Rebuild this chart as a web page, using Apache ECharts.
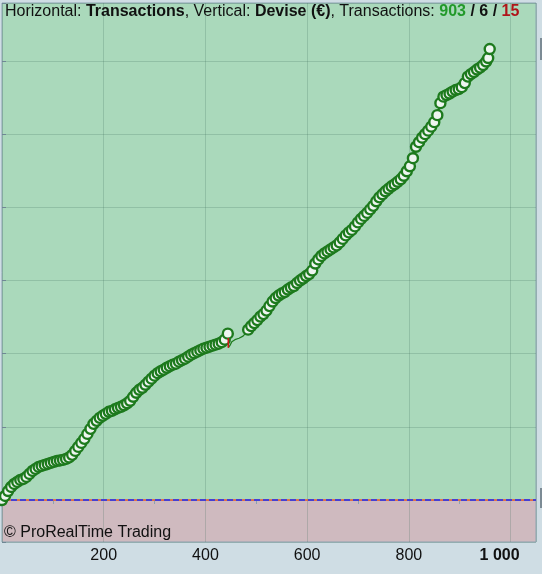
<!DOCTYPE html>
<html>
<head>
<meta charset="utf-8">
<script src="https://cdn.jsdelivr.net/npm/echarts@6/dist/echarts.min.js"></script>
<style>
html,body{margin:0;padding:0;background:#cfdde4;}
#c{width:542px;height:574px;}
</style>
</head>
<body>
<div id="c"></div>
<script>
// ---- data ----
const tradesA = [0,6,12,18,24,30,36,42,48,54,60,66,72,78,84,90,96,102,108,114,120,126,132,138,144,150,156,162,168,174,180,186,192,198,204,210,216,222,228,234,240,246,252,258,264,270,276,282,288,294,300,306,312,318,324,330,336,342,348,354,360,366,372,378,384,390,396,402,408,414,420,426,432,438,444];
const equityA = [0,55,123,178,219,247,274,288,315,356,397,425,452,466,480,493,507,521,534,541,548,562,582,617,671,726,781,836,904,973,1041,1082,1123,1151,1178,1206,1219,1240,1260,1274,1295,1322,1356,1411,1466,1507,1534,1575,1617,1658,1699,1733,1760,1781,1808,1829,1850,1863,1891,1911,1932,1959,1987,2007,2028,2048,2069,2082,2096,2110,2124,2137,2158,2192,2274];

const lossTrades = [445,445];
const lossEquity = [2215,2082];

const gapTrades = [445,448,452,458,466,474,480,484];
const gapEquity = [2082,2110,2165,2192,2212,2240,2288,2329];

const tradesB = [484,490,496,502,508,514,520,526,532,538,544,550,556,562,568,574,580,586,592,598,604,610,616,622,628,634,640,646,652,658,664,670,676,682,688,694,700,706,712,718,724,730,736,742,748,754,760,766,772,778,784,790,796,802,808,814,820,826,832,838,844,850,856,862,868,874,880,886,892,898,904,910,916,922,928,934,940,946,952,956,959];
const equityB = [2329,2377,2418,2459,2507,2541,2589,2651,2713,2761,2795,2822,2843,2877,2904,2925,2966,3000,3028,3062,3089,3137,3233,3288,3336,3370,3398,3425,3452,3480,3521,3569,3617,3658,3692,3740,3795,3843,3884,3925,3973,4021,4083,4137,4179,4220,4254,4288,4316,4350,4384,4432,4494,4562,4672,4829,4891,4953,5001,5049,5104,5165,5261,5425,5514,5535,5556,5583,5604,5617,5644,5699,5788,5822,5850,5884,5911,5946,5994,6042,6165];

const xTicks = [200,400,600,800,1000];
const countWin = '903', countEven = '6', countLoss = '15';

// ---- chart ----
const FONT = '"Liberation Sans", Arial, sans-serif';
const GREEN_BG = '#aad9bb';
const PINK_BG = '#cfbabf';
const LINE_GREEN = '#1d7a1d';
const GRIDC = 'rgba(60,105,85,0.22)';

const zip = (xs, ys) => xs.map((x, i) => [x, ys[i]]);

const chart = echarts.init(document.getElementById('c'), null, {renderer: 'canvas'});
const markerSeries = (xs, ys) => ({
  type: 'line', z: 4, silent: true, data: zip(xs, ys), showAllSymbol: true, symbol: 'circle', symbolSize: 10,
  itemStyle: {color: '#eef5f0', borderColor: LINE_GREEN, borderWidth: 2.4},
  lineStyle: {color: LINE_GREEN, width: 2}
});
const option = {
  backgroundColor: '#cfdde4',
  animation: false,
  grid: {left: 2, top: 3, right: 6, bottom: 32, show: true, borderColor: '#8aa3b0', borderWidth: 1, backgroundColor: 'transparent'},
  xAxis: {
    type: 'value', min: 0, max: 1050, interval: 200,
    axisLine: {show: false},
    axisTick: {show: false},
    minorTick: {show: true, splitNumber: 2, length: 4, lineStyle: {color: '#8aa3b0'}},
    splitLine: {show: true, lineStyle: {color: GRIDC, width: 1}},
    axisLabel: {
      showMinLabel: false, showMaxLabel: false, margin: 6,
      fontSize: 16, fontFamily: FONT, color: '#111',
      formatter: v => xTicks.indexOf(v) < 0 ? '' : (v === 1000 ? '{b|1 000}' : String(v)),
      rich: {b: {fontSize: 16, fontFamily: FONT, fontWeight: 'bold', color: '#111', padding: [0, 22, 0, 0]}}
    }
  },
  yAxis: {
    type: 'value', position: 'right', min: -574, max: 6794,
    splitNumber: 7, minInterval: 1000, maxInterval: 1000,
    axisLine: {show: false},
    axisTick: {show: true, length: 4, lineStyle: {color: '#6f8694'}},
    axisLabel: {show: false},
    splitLine: {show: true, lineStyle: {color: GRIDC, width: 1}}
  },
  graphic: [
    {type: 'text', left: 5, top: 4, z: 100, style: {
      text: '{n|Horizontal: }{b|Transactions}{n|, Vertical: }{b|Devise (€)}{n|, Transactions: }{g|' + countWin + '}{b| / ' + countEven + ' / }{r|' + countLoss + '}',
      rich: {
        n: {fontSize: 16, fontFamily: FONT, fill: '#111'},
        b: {fontSize: 16, fontFamily: FONT, fontWeight: 'bold', fill: '#111'},
        g: {fontSize: 16, fontFamily: FONT, fontWeight: 'bold', fill: '#22992a'},
        r: {fontSize: 16, fontFamily: FONT, fontWeight: 'bold', fill: '#b0141a'}
      }
    }},
    {type: 'text', left: 4, top: 525, z: 100, style: {text: '© ProRealTime Trading', fontSize: 16, fontFamily: FONT, fill: '#111'}},
    {type: 'rect', left: 540, top: 38, z: 100, shape: {width: 2, height: 22}, style: {fill: '#7c8b95'}},
    {type: 'rect', left: 540, top: 488, z: 100, shape: {width: 2, height: 20}, style: {fill: '#7c8b95'}}
  ],
  series: [
    {
      type: 'custom', z: -5, silent: true, data: [[0, 0]],
      renderItem: (params, api) => {
        const cs = params.coordSys;
        const y0 = api.coord([0, 0])[1];
        return {type: 'group', children: [
          {type: 'rect', shape: {x: cs.x, y: cs.y, width: cs.width, height: y0 - cs.y}, style: {fill: GREEN_BG}},
          {type: 'rect', shape: {x: cs.x, y: y0, width: cs.width, height: cs.y + cs.height - y0}, style: {fill: PINK_BG}}
        ]};
      }
    },
    {type: 'line', z: 2, silent: true, symbol: 'none', data: [[0, 0], [1050, 0]], lineStyle: {color: '#ee5a2a', width: 1.3}},
    {type: 'line', z: 2, silent: true, symbol: 'none', data: [[0, 0], [1050, 0]], lineStyle: {color: '#1530ff', width: 1.3, type: [6, 3]}},
    {type: 'line', z: 3, silent: true, symbol: 'none', data: zip(gapTrades, gapEquity), lineStyle: {color: LINE_GREEN, width: 1.2}},
    {type: 'line', z: 5, silent: true, symbol: 'none', data: zip(lossTrades, lossEquity), lineStyle: {color: '#d01818', width: 1.6}},
    markerSeries(tradesA, equityA),
    markerSeries(tradesB, equityB)
  ]
};
chart.setOption(option);
</script>
</body>
</html>
